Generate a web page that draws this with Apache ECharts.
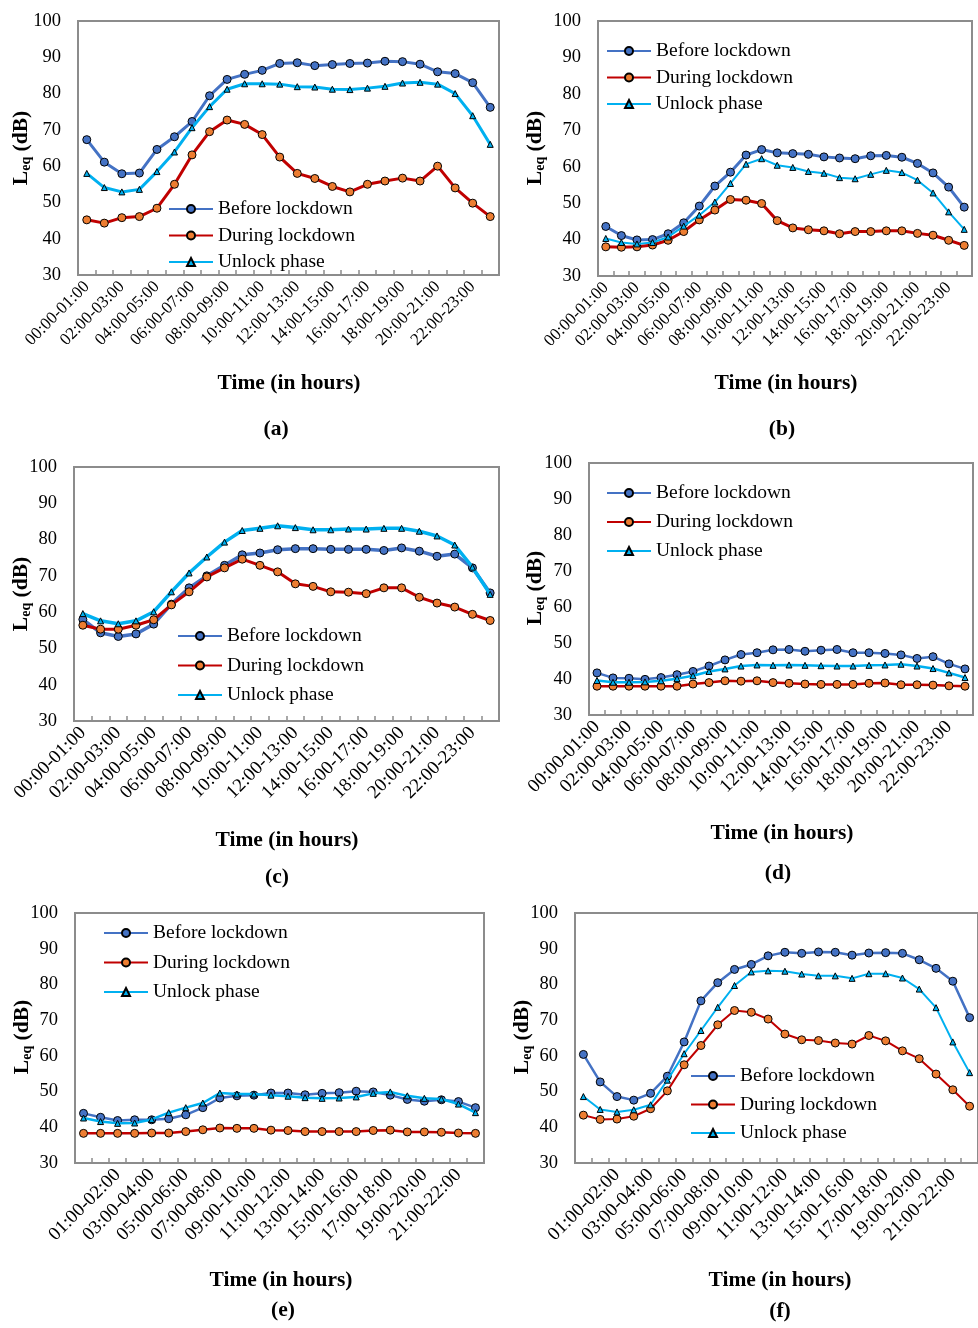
<!DOCTYPE html>
<html>
<head>
<meta charset="utf-8">
<script src="https://cdn.jsdelivr.net/npm/echarts@6/dist/echarts.min.js"></script>
<style>
  html, body { margin: 0; padding: 0; background: #fff; }
  #chart { width: 978px; height: 1328px; }
</style>
</head>
<body>
<div id="chart"></div>
<script>
// Hourly time slots (panels a-d start at midnight; panels e-f start one hour earlier)
const slotsMidnight = [
  "00:00-01:00", "01:00-02:00", "02:00-03:00", "03:00-04:00", "04:00-05:00", "05:00-06:00",
  "06:00-07:00", "07:00-08:00", "08:00-09:00", "09:00-10:00", "10:00-11:00", "11:00-12:00",
  "12:00-13:00", "13:00-14:00", "14:00-15:00", "15:00-16:00", "16:00-17:00", "17:00-18:00",
  "18:00-19:00", "19:00-20:00", "20:00-21:00", "21:00-22:00", "22:00-23:00", "23:00-24:00"
];
const slotsEvening = [
  "23:00-24:00", "00:00-01:00", "01:00-02:00", "02:00-03:00", "03:00-04:00", "04:00-05:00",
  "05:00-06:00", "06:00-07:00", "07:00-08:00", "08:00-09:00", "09:00-10:00", "10:00-11:00",
  "11:00-12:00", "12:00-13:00", "13:00-14:00", "14:00-15:00", "15:00-16:00", "16:00-17:00",
  "17:00-18:00", "18:00-19:00", "19:00-20:00", "20:00-21:00", "21:00-22:00", "22:00-23:00"
];

const seriesNames = ["Before lockdown", "During lockdown", "Unlock phase"];
const panelLetters = ["(a)", "(b)", "(c)", "(d)", "(e)", "(f)"];
const yMin = 30, yMax = 100, yStep = 10;

// Leq (dB) per hour
const beforeA = [67.3, 61.1, 57.9, 58.1, 64.6, 68.1, 72.3, 79.4, 83.9, 85.3, 86.4, 88.3, 88.5, 87.7, 88.0, 88.3, 88.4, 88.9, 88.8, 88.1, 86.0, 85.5, 83.0, 76.2];
const duringA = [45.2, 44.3, 45.8, 46.1, 48.4, 55.0, 63.1, 69.5, 72.7, 71.5, 68.7, 62.5, 58.0, 56.6, 54.4, 52.9, 55.0, 55.9, 56.7, 55.9, 60.0, 54.0, 49.8, 46.1];
const unlockA = [58.0, 54.1, 52.9, 53.6, 58.5, 63.9, 70.6, 76.4, 81.2, 82.7, 82.7, 82.6, 81.9, 81.8, 81.2, 81.1, 81.5, 82.0, 82.9, 83.1, 82.6, 80.0, 73.9, 66.0];

const beforeB = [43.6, 41.1, 39.9, 40.0, 41.6, 44.6, 49.2, 54.7, 58.5, 63.2, 64.7, 63.8, 63.6, 63.4, 62.7, 62.4, 62.2, 63.0, 63.1, 62.6, 60.9, 58.3, 54.4, 48.9];
const duringB = [38.0, 37.9, 38.0, 38.5, 39.8, 42.2, 45.4, 48.1, 51.0, 50.8, 49.9, 45.2, 43.2, 42.7, 42.4, 41.6, 42.2, 42.2, 42.4, 42.4, 41.7, 41.2, 39.8, 38.4];
const unlockB = [40.3, 39.2, 38.8, 39.2, 40.7, 43.7, 46.7, 50.3, 55.4, 60.7, 62.2, 60.4, 59.8, 58.7, 58.2, 57.0, 56.7, 57.9, 59.0, 58.4, 56.3, 52.8, 47.6, 42.8];

const beforeC = [58.0, 54.3, 53.3, 54.0, 56.7, 62.2, 66.7, 70.0, 72.9, 75.8, 76.3, 77.2, 77.5, 77.5, 77.3, 77.3, 77.3, 77.0, 77.7, 76.8, 75.4, 76.0, 72.2, 65.3];
const duringC = [56.4, 55.3, 55.3, 56.4, 57.9, 62.0, 65.6, 69.7, 72.2, 74.6, 72.9, 71.1, 67.8, 67.1, 65.6, 65.5, 65.1, 66.7, 66.7, 64.1, 62.5, 61.4, 59.4, 57.7];
const unlockC = [59.6, 57.6, 56.8, 57.6, 60.1, 65.6, 70.8, 75.2, 79.3, 82.5, 83.1, 83.8, 83.3, 82.7, 82.7, 82.9, 82.9, 83.1, 83.1, 82.3, 81.0, 78.5, 72.4, 64.9];

const beforeD = [41.7, 40.3, 40.2, 39.9, 40.4, 41.2, 42.1, 43.6, 45.3, 46.8, 47.3, 48.1, 48.2, 47.7, 48.0, 48.2, 47.3, 47.3, 47.1, 46.7, 45.7, 46.2, 44.2, 42.8];
const duringD = [38.0, 38.0, 38.0, 38.0, 38.0, 38.0, 38.6, 39.0, 39.5, 39.4, 39.5, 39.0, 38.8, 38.6, 38.5, 38.5, 38.5, 38.8, 38.9, 38.4, 38.4, 38.3, 38.1, 38.0];
const unlockD = [39.6, 39.1, 39.1, 39.2, 39.5, 40.1, 40.9, 42.1, 42.8, 43.6, 43.9, 43.8, 43.9, 43.8, 43.7, 43.6, 43.6, 43.8, 43.9, 44.1, 43.6, 42.9, 41.7, 40.4];

const beforeE = [43.9, 42.8, 41.9, 42.1, 42.1, 42.4, 43.5, 45.5, 48.2, 48.8, 49.0, 49.6, 49.6, 49.1, 49.5, 49.7, 50.1, 49.9, 49.0, 47.8, 47.3, 47.7, 47.2, 45.5];
const duringE = [38.3, 38.3, 38.3, 38.3, 38.4, 38.4, 38.8, 39.3, 39.8, 39.7, 39.7, 39.2, 39.1, 38.8, 38.8, 38.8, 38.8, 39.1, 39.2, 38.7, 38.7, 38.6, 38.4, 38.3];
const unlockE = [42.6, 41.6, 41.1, 41.2, 42.2, 44.1, 45.5, 46.8, 49.6, 49.3, 49.3, 49.0, 48.7, 48.3, 48.1, 48.2, 48.5, 49.5, 49.9, 48.8, 48.1, 47.9, 46.5, 44.1];

const beforeF = [60.4, 52.7, 48.6, 47.6, 49.5, 54.3, 63.9, 75.4, 80.5, 84.2, 85.6, 88.0, 89.0, 88.7, 89.1, 89.0, 88.2, 88.8, 88.9, 88.7, 86.9, 84.5, 80.9, 70.7];
const duringF = [43.4, 42.2, 42.3, 43.1, 45.2, 50.2, 57.5, 62.9, 68.7, 72.7, 72.2, 70.3, 66.1, 64.5, 64.3, 63.6, 63.3, 65.7, 64.2, 61.4, 59.2, 54.9, 50.5, 45.9];
const unlockF = [48.6, 45.0, 44.3, 44.9, 46.3, 53.2, 60.6, 67.1, 73.6, 79.7, 83.5, 83.8, 83.7, 82.9, 82.4, 82.4, 81.7, 83.0, 83.0, 81.8, 78.7, 73.5, 63.9, 55.3];

const panelData = [
  { cats: slotsMidnight, values: [beforeA, duringA, unlockA] },
  { cats: slotsMidnight, values: [beforeB, duringB, unlockB] },
  { cats: slotsMidnight, values: [beforeC, duringC, unlockC] },
  { cats: slotsMidnight, values: [beforeD, duringD, unlockD] },
  { cats: slotsEvening,  values: [beforeE, duringE, unlockE] },
  { cats: slotsEvening,  values: [beforeF, duringF, unlockF] }
];

// Layout of the six panels (pixels)
const layout = [
  { grid: [78, 21, 421, 254], tick: 17, widths: [3, 3, 3], legend: [168, 199, 6.5], yTitle: [21, 148], xTitle: [289, 383], letter: [276, 429], skipFirst: false },
  { grid: [598, 21, 374, 255], tick: 17, widths: [3, 3, 2], legend: [606, 41, 6.5], yTitle: [535, 148], xTitle: [786, 383], letter: [782, 429], skipFirst: false },
  { grid: [74, 467, 425, 254], tick: 19, widths: [3.5, 3, 3.5], legend: [177, 626, 9.5], yTitle: [21, 594], xTitle: [287, 840], letter: [277, 877], skipFirst: false },
  { grid: [589, 463, 384, 252], tick: 19, widths: [2.5, 2.5, 2.5], legend: [606, 483, 9], yTitle: [535, 588], xTitle: [782, 833], letter: [778, 873], skipFirst: false },
  { grid: [75, 913, 409, 250], tick: 19, widths: [2.5, 2.5, 2.5], legend: [103, 923, 9.5], yTitle: [22, 1037], xTitle: [281, 1280], letter: [283, 1310], skipFirst: true },
  { grid: [575, 913, 410, 250], tick: 19, widths: [2.5, 2, 2], legend: [690, 1066, 8.5], yTitle: [522, 1037], xTitle: [780, 1280], letter: [780, 1311], skipFirst: true }
];

const SERIF = '"Liberation Serif", "Times New Roman", serif';
const AXIS_GRAY = '#8c8c8c';
const lineColors = ['#4472C4', '#C00000', '#00B0F0'];
const markerFills = ['#4472C4', '#ED7D31', '#00B0F0'];
const markerShapes = ['circle', 'circle', 'triangle'];
const markerSizes = [8, 8, 6];

const grids = [], xAxes = [], yAxes = [], series = [], legends = [], graphics = [];

layout.forEach((p, i) => {
  const [left, top, width, height] = p.grid;
  grids.push({
    left, top, width, height, containLabel: false,
    show: true, borderColor: AXIS_GRAY, borderWidth: 2, backgroundColor: 'transparent'
  });
  xAxes.push({
    type: 'category', gridIndex: i, data: panelData[i].cats, boundaryGap: true,
    axisLine: { show: true, lineStyle: { color: AXIS_GRAY, width: 2 } },
    axisTick: { show: true, inside: true, length: 5, interval: 0, lineStyle: { color: AXIS_GRAY, width: 1.5 } },
    axisLabel: {
      interval: p.skipFirst ? (idx) => idx % 2 === 0 && idx > 0 : (idx) => idx % 2 === 0,
      rotate: 45, margin: 9, color: '#000', fontFamily: SERIF, fontSize: p.tick
    },
    splitLine: { show: false }
  });
  yAxes.push({
    type: 'value', gridIndex: i, min: yMin, max: yMax, interval: yStep,
    axisLine: { show: false }, axisTick: { show: false }, splitLine: { show: false },
    axisLabel: { margin: 17, color: '#000', fontFamily: SERIF, fontSize: 18.5 }
  });
  seriesNames.forEach((name, s) => {
    series.push({
      type: 'line', name, xAxisIndex: i, yAxisIndex: i,
      data: panelData[i].values[s],
      symbol: markerShapes[s], symbolSize: markerSizes[s], showAllSymbol: true,
      lineStyle: { color: lineColors[s], width: p.widths[s] },
      itemStyle: { color: markerFills[s], borderColor: '#000', borderWidth: 1 },
      emphasis: { disabled: true },
      z: 2 + s
    });
  });
  legends.push({
    orient: 'vertical', left: p.legend[0], top: p.legend[1], itemGap: p.legend[2],
    padding: 0, itemWidth: 44, itemHeight: 10, selectedMode: false,
    data: seriesNames,
    textStyle: { color: '#000', fontFamily: SERIF, fontSize: 19.5 }
  });
  graphics.push({
    type: 'text', x: p.yTitle[0], y: p.yTitle[1], rotation: Math.PI / 2,
    style: {
      text: '{m|L}{s|eq}{m| (dB)}', align: 'center', verticalAlign: 'middle',
      rich: {
        m: { fontFamily: SERIF, fontWeight: 'bold', fontSize: 21.5, lineHeight: 24, fill: '#000' },
        s: { fontFamily: SERIF, fontWeight: 'bold', fontSize: 14, lineHeight: 10, verticalAlign: 'bottom', fill: '#000' }
      }
    }
  });
  graphics.push({
    type: 'text', x: p.xTitle[0], y: p.xTitle[1],
    style: { text: 'Time (in hours)', align: 'center', verticalAlign: 'middle',
      fontFamily: SERIF, fontWeight: 'bold', fontSize: 21.5, fill: '#000' }
  });
  graphics.push({
    type: 'text', x: p.letter[0], y: p.letter[1],
    style: { text: panelLetters[i], align: 'center', verticalAlign: 'middle',
      fontFamily: SERIF, fontWeight: 'bold', fontSize: 21.5, fill: '#000' }
  });
});

const chart = echarts.init(document.getElementById('chart'), null, { renderer: 'canvas' });
chart.setOption({
  animation: false,
  backgroundColor: '#fff',
  grid: grids,
  xAxis: xAxes,
  yAxis: yAxes,
  legend: legends,
  series: series,
  graphic: graphics
});
</script>
</body>
</html>
